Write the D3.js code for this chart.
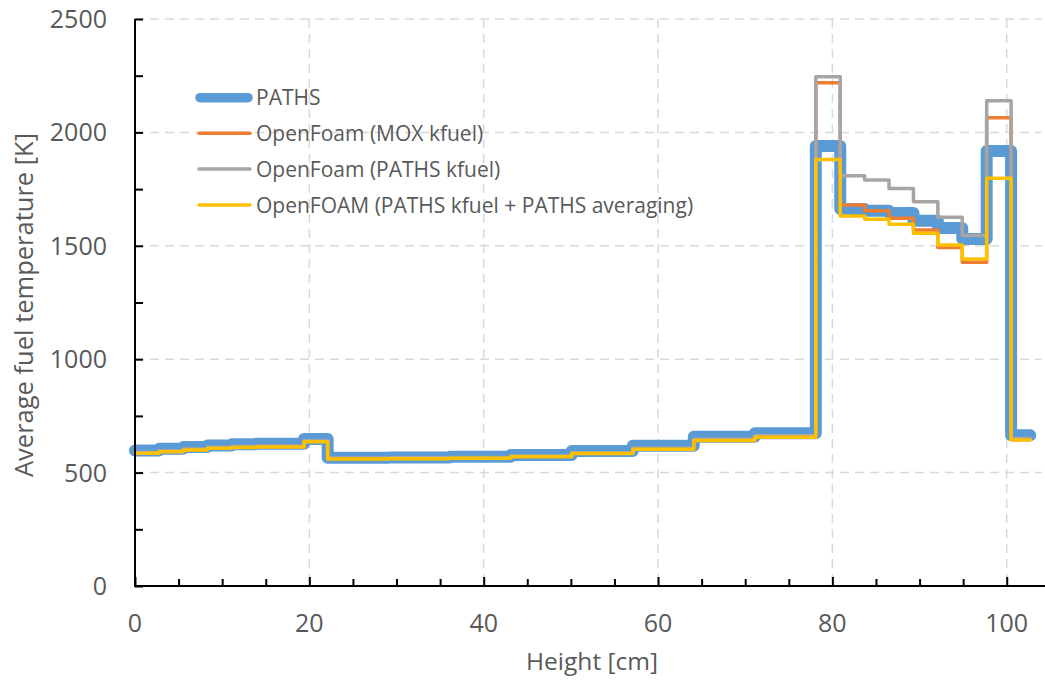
<!DOCTYPE html>
<html>
<head>
<meta charset="utf-8">
<script src="https://cdn.jsdelivr.net/npm/d3@7"></script>
<style>
  html, body { margin: 0; padding: 0; background: #fff; }
  svg { display: block; font-family: "Open Sans", sans-serif; }
</style>
</head>
<body>
<svg id="chart" width="1045" height="686"></svg>
<script>
// ---- data ----
const edges = [0, 2.77, 5.54, 8.31, 11.08, 13.85, 16.62, 19.39, 22.1, 29.1, 36.1, 43.1, 50.1, 57.1, 64.1, 71.1, 78.1, 80.9, 83.7, 86.5, 89.3, 92.1, 94.9, 97.7, 100.5, 102.7];
const pathsValues  = [597, 605, 613, 620, 625, 627, 627, 648, 565, 567, 570, 578, 595, 618, 658, 673, 1940, 1662, 1655, 1645, 1610, 1578, 1530, 1918, 665];
const moxValues    = [587, 594, 602, 609, 613, 615, 615, 638, 562, 563, 565, 572, 586, 605, 645, 660, 2219, 1680, 1655, 1621, 1570, 1493, 1427, 2065, 646];
const pkfuelValues = [589, 596, 604, 611, 615, 617, 617, 640, 564, 565, 567, 574, 588, 607, 647, 662, 2245, 1809, 1790, 1753, 1694, 1626, 1545, 2140, 650];
const avgValues    = [585, 592, 600, 607, 611, 613, 613, 636, 560, 561, 563, 570, 584, 603, 642, 656, 1881, 1631, 1617, 1595, 1555, 1503, 1442, 1798, 644];
const seriesNames = ["PATHS", "OpenFoam (MOX kfuel)", "OpenFoam (PATHS kfuel)", "OpenFOAM (PATHS kfuel + PATHS averaging)"];
const xTicks = [0, 20, 40, 60, 80, 100];
const yTicks = [0, 500, 1000, 1500, 2000, 2500];
const xTitle = "Height [cm]";
const yTitle = "Average fuel temperature [K]";

// ---- layout ----
const svg = d3.select("#chart");
const pLeft = 135, pRight = 1041.6, pTop = 19, pBottom = 586;
const x = d3.scaleLinear().domain([0, 104]).range([pLeft, pRight]);
const y = d3.scaleLinear().domain([0, 2500]).range([pBottom, pTop]);

// grid
const grid = svg.append("g").attr("stroke", "#d9d9d9").attr("stroke-width", 1.5).attr("stroke-dasharray", "9,6");
xTicks.filter(d => d > 0).forEach(d => {
  grid.append("line").attr("x1", x(d)).attr("x2", x(d)).attr("y1", pTop).attr("y2", pBottom);
});
yTicks.filter(d => d > 0).forEach(d => {
  grid.append("line").attr("x1", pLeft).attr("x2", pRight).attr("y1", y(d)).attr("y2", y(d));
});

// series
function stepData(vals) {
  const pts = vals.map((v, i) => [edges[i], v]);
  pts.push([edges[edges.length - 1], vals[vals.length - 1]]);
  return pts;
}
const line = d3.line().x(d => x(d[0])).y(d => y(d[1])).curve(d3.curveStepAfter);
const series = [
  { vals: pathsValues, color: "#5b9bd5", width: 12, lw: 9.5, lx1: 200, lx2: 248 },
  { vals: moxValues, color: "#ed7d31", width: 3.5, lw: 3.5, lx1: 199, lx2: 250 },
  { vals: pkfuelValues, color: "#a5a5a5", width: 3.5, lw: 3.5, lx1: 199, lx2: 250 },
  { vals: avgValues, color: "#ffc000", width: 3.5, lw: 3.5, lx1: 199, lx2: 250 }
];
series.forEach(s => {
  svg.append("path").datum(stepData(s.vals))
    .attr("d", line).attr("fill", "none")
    .attr("stroke", s.color).attr("stroke-width", s.width)
    .attr("stroke-linejoin", "round").attr("stroke-linecap", "round");
});

// axes
const xAxisG = svg.append("g").attr("transform", `translate(0,${pBottom})`);
xAxisG.call(d3.axisBottom(x).tickValues(d3.range(0, 105, 5)).tickSize(-7).tickFormat(""));
xAxisG.selectAll(".tick line").attr("stroke", "#000").attr("stroke-width", 2)
  .attr("y2", d => d % 20 === 0 ? -9 : -7);
xAxisG.select(".domain").remove();
xAxisG.append("line").attr("x1", pLeft - 1).attr("x2", 1045).attr("y1", 0).attr("y2", 0)
  .attr("stroke", "#000").attr("stroke-width", 2);

const yAxisG = svg.append("g").attr("transform", `translate(${pLeft},0)`);
yAxisG.call(d3.axisLeft(y).tickValues(d3.range(0, 2501, 250)).tickSize(-8).tickFormat(""));
yAxisG.selectAll(".tick line").attr("stroke", "#000").attr("stroke-width", 2);
yAxisG.select(".domain").remove();
yAxisG.append("line").attr("x1", 0).attr("x2", 0).attr("y1", pTop).attr("y2", pBottom + 1)
  .attr("stroke", "#000").attr("stroke-width", 2);

// tick labels
svg.append("g").selectAll("text").data(xTicks).join("text")
  .attr("x", d => x(d)).attr("y", 632)
  .attr("text-anchor", "middle").attr("fill", "#595959").attr("font-size", 25)
  .text(d => d);
svg.append("g").selectAll("text").data(yTicks).join("text")
  .attr("x", 107).attr("y", d => y(d) + 9)
  .attr("text-anchor", "end").attr("fill", "#595959").attr("font-size", 25)
  .text(d => d);

// titles
svg.append("text").attr("x", 592).attr("y", 670).attr("text-anchor", "middle")
  .attr("fill", "#595959").attr("font-size", 24.5).text(xTitle);
svg.append("text").attr("transform", "translate(33,305) rotate(-90)").attr("text-anchor", "middle")
  .attr("fill", "#595959").attr("font-size", 25.5).text(yTitle);

// legend
const legendY = [97.7, 133.3, 169, 205];
const lg = svg.append("g");
series.forEach((s, i) => {
  lg.append("line").attr("x1", s.lx1).attr("x2", s.lx2)
    .attr("y1", legendY[i]).attr("y2", legendY[i])
    .attr("stroke", s.color).attr("stroke-width", s.lw).attr("stroke-linecap", "round");
  lg.append("text").attr("x", 256).attr("y", legendY[i] + 7.5)
    .attr("fill", "#595959").attr("font-size", 21).text(seriesNames[i]);
});
</script>
</body>
</html>
